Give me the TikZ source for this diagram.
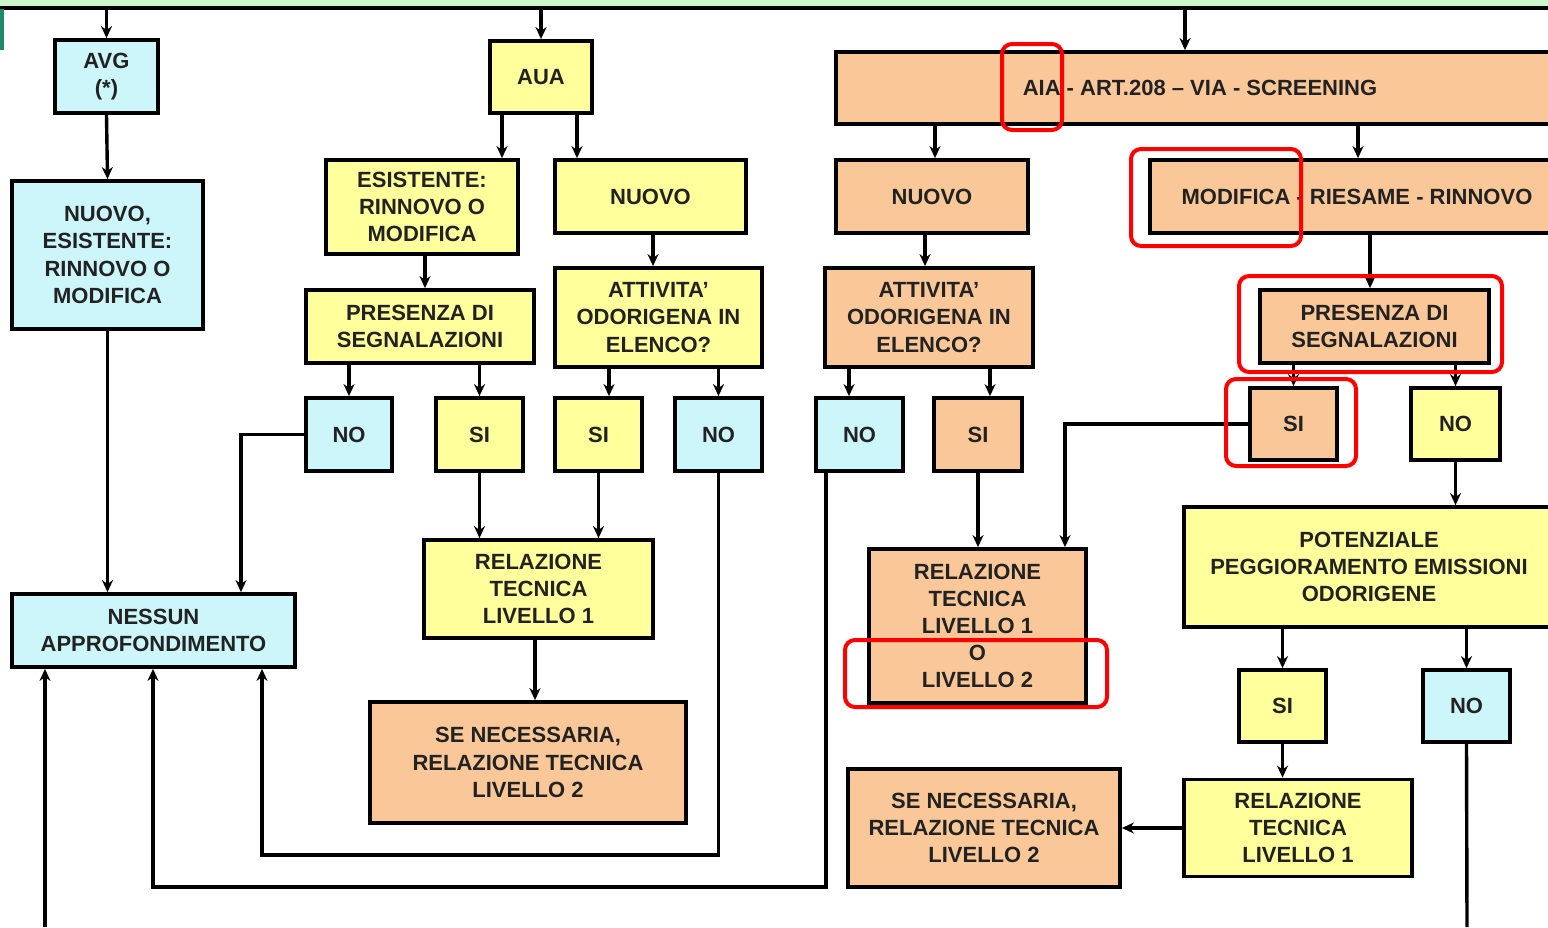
\documentclass[tikz,border=0pt]{standalone}
\usepackage{fontspec}
\setmainfont{Liberation Sans}
\usetikzlibrary{positioning,calc,arrows.meta}
\tikzset{>={Stealth[length=6pt,width=5.5pt]}}
\definecolor{boxcyan}{HTML}{CCF6FA}
\definecolor{boxyellow}{HTML}{FFFF9C}
\definecolor{boxpeach}{HTML}{FAC898}
\definecolor{bargreen}{HTML}{CCF7C8}
\definecolor{barteal}{HTML}{1A8A6A}
\definecolor{inkgray}{HTML}{222222}
\tikzset{
  box/.style={draw,line width=1.9pt,inner sep=0pt,align=center,text=inkgray,
    font=\bfseries\fontsize{11}{13.6}\selectfont},
  cyanbox/.style={box,fill=boxcyan},
  yellowbox/.style={box,fill=boxyellow},
  peachbox/.style={box,fill=boxpeach},
  sz/.style 2 args={minimum width=#1*0.5pt,minimum height=#2*0.5pt},
  arr/.style={->,line width=1.7pt},
  redframe/.style={draw=red,line width=2pt,rounded corners=5pt}
}

\begin{document}
\begin{tikzpicture}[x=0.5pt,y=-0.5pt]
\useasboundingbox (0,0) rectangle (1548,927);
\clip (0,0) rectangle (1548,927);
% 1 unit = 1 pixel of the original sheet, y pointing down

% Top bar
\fill[bargreen] (-10,-10) rectangle (1560,8);
\draw[line width=1.6pt] (-10,8) -- (1560,8);
\fill[barteal] (0,9) rectangle (4,50);
\coordinate (bar) at (0,9);

% AVG column
\node[cyanbox,sz={103}{73}] (avg) at (106.5,76.5) {AVG\\(*)};
\node[cyanbox,sz={191}{148}] (nuovoAvg) at (107.5,255) {NUOVO,\\ESISTENTE:\\RINNOVO O\\MODIFICA};
\node[cyanbox,sz={283}{73}] (nessun) at (153.5,630.5) {NESSUN\\APPROFONDIMENTO};

% AUA column
\node[yellowbox,sz={102}{72}] (aua) at (541,77) {AUA};
\node[yellowbox,sz={192}{94}] (esist) at (422,207) {ESISTENTE:\\RINNOVO O\\MODIFICA};
\node[yellowbox,sz={191}{73}] (nuovoAua) at (650.5,196.5) {NUOVO};
\node[yellowbox,sz={228}{73}] (presAua) at (420,326.5) {PRESENZA DI\\SEGNALAZIONI};
\node[yellowbox,sz={207}{99}] (attAua) at (658.5,317.5) {ATTIVITA'\\ODORIGENA IN\\ELENCO?};
\node[cyanbox,sz={86}{73}] (noA) at (349,434.5) {NO};
\node[yellowbox,sz={87}{73}] (siA) at (479.5,434.5) {SI};
\node[yellowbox,sz={87}{73}] (siB) at (598.5,434.5) {SI};
\node[cyanbox,sz={87}{73}] (noB) at (718.5,434.5) {NO};
\node[yellowbox,sz={229}{98}] (relA) at (538.5,589) {RELAZIONE\\TECNICA\\LIVELLO 1};
\node[peachbox,sz={316}{121}] (seNecA) at (528,762.5) {SE NECESSARIA,\\RELAZIONE TECNICA\\LIVELLO 2};

% AIA column
\node[peachbox,sz={728}{72}] (aia) at (1200,88) {AIA - ART.208 – VIA - SCREENING};
\node[peachbox,sz={192}{73}] (nuovoAia) at (932,196.5) {NUOVO};
\node[peachbox,sz={414}{73}] (modifica) at (1357,196.5) {MODIFICA - RIESAME - RINNOVO};
\node[peachbox,sz={208}{99}] (attAia) at (929,317.5) {ATTIVITA'\\ODORIGENA IN\\ELENCO?};
\node[cyanbox,sz={87}{73}] (noC) at (859.5,434.5) {NO};
\node[peachbox,sz={88}{73}] (siC) at (978,434.5) {SI};
\node[peachbox,sz={217}{154}] (relB) at (977.5,626) {RELAZIONE\\TECNICA\\LIVELLO 1\\O\\LIVELLO 2};
\node[peachbox,sz={229}{73}] (presAia) at (1374.5,326.5) {PRESENZA DI\\SEGNALAZIONI};
\node[peachbox,sz={87}{72}] (siD) at (1293.5,424) {SI};
\node[yellowbox,sz={89}{72}] (noD) at (1455.5,424) {NO};
\node[yellowbox,sz={370}{120}] (potenz) at (1369,567) {POTENZIALE\\PEGGIORAMENTO EMISSIONI\\ODORIGENE};
\node[yellowbox,sz={87}{72}] (siE) at (1282.5,706) {SI};
\node[cyanbox,sz={87}{72}] (noE) at (1466.5,706) {NO};
\node[yellowbox,sz={228}{97}] (relC) at (1298,828) {RELAZIONE\\TECNICA\\LIVELLO 1};
\node[peachbox,sz={272}{118}] (seNecB) at (984,828) {SE NECESSARIA,\\RELAZIONE TECNICA\\LIVELLO 2};

% Free ends and bends
\coordinate (edgeL) at (45,927);
\coordinate (edgeR) at (1467,927);
\coordinate (loopB) at (262,855);
\coordinate (loopC) at (153,887);

% From the top bar
\draw[arr] (avg.north |- bar) -- (avg.north);
\draw[arr] (aua.north |- bar) -- (aua.north);
\draw[arr] (1185,0 |- bar) -- (aia.north -| 1185,0);

% AVG
\draw[arr] (avg.south) -- (nuovoAvg.north);
\draw[arr] (nuovoAvg.south) -- (nessun.north -| nuovoAvg.south);
\draw[arr] (edgeL) -- (nessun.south -| edgeL);

% AUA
\draw[arr] (aua.south -| 502,0) -- (esist.north -| 502,0);
\draw[arr] (aua.south -| 577,0) -- (nuovoAua.north -| 577,0);
\draw[arr] (esist.south -| 425,0) -- (presAua.north -| 425,0);
\draw[arr] (presAua.south -| noA.north) -- (noA.north);
\draw[arr] (presAua.south -| siA.north) -- (siA.north);
\draw[arr] (nuovoAua.south -| 653,0) -- (attAua.north -| 653,0);
\draw[arr] (attAua.south -| 609,0) -- (siB.north -| 609,0);
\draw[arr] (attAua.south -| noB.north) -- (noB.north);
\draw[arr] (noA.west) -| (nessun.north -| 241,0);
\draw[arr] (siA.south) -- (relA.north -| siA.south);
\draw[arr] (siB.south) -- (relA.north -| siB.south);
\draw[arr] (relA.south -| 535,0) -- (seNecA.north -| 535,0);
\draw[arr] (noB.south) |- (loopB) -- (nessun.south -| loopB);

% AIA
\draw[arr] (aia.south -| 935,0) -- (nuovoAia.north -| 935,0);
\draw[arr] (aia.south -| 1358,0) -- (modifica.north -| 1358,0);
\draw[arr] (nuovoAia.south -| 925,0) -- (attAia.north -| 925,0);
\draw[arr] (attAia.south -| 849,0) -- (noC.north -| 849,0);
\draw[arr] (attAia.south -| 990,0) -- (siC.north -| 990,0);
\draw[arr] (siC.south) -- (relB.north -| siC.south);
\draw[arr] (noC.south -| 826,0) |- (loopC) -- (nessun.south -| loopC);
\draw[arr] (modifica.south -| 1370,0) -- (presAia.north -| 1370,0);
\draw[arr] (presAia.south -| siD.north) -- (siD.north);
\draw[arr] (presAia.south -| noD.north) -- (noD.north);
\draw[arr] (siD.west) -| (relB.north -| 1065,0);
\draw[arr] (noD.south) -- (potenz.north -| noD.south);
\draw[arr] (potenz.south -| siE.north) -- (siE.north);
\draw[arr] (potenz.south -| noE.north) -- (noE.north);
\draw[arr] (siE.south) -- (relC.north -| siE.south);
\draw[arr] (relC.west) -- (seNecB.east);
\draw[line width=1.7pt] (noE.south) -- (edgeR);

% Red highlights
\draw[redframe] (1002,44) rectangle (1062,130);
\draw[redframe] (1131,149) rectangle (1301,246);
\draw[redframe] (1239,276) rectangle (1502,372);
\draw[redframe] (1226,379) rectangle (1356,466);
\draw[redframe] (845,640) rectangle (1107,707);

\end{tikzpicture}
\end{document}
